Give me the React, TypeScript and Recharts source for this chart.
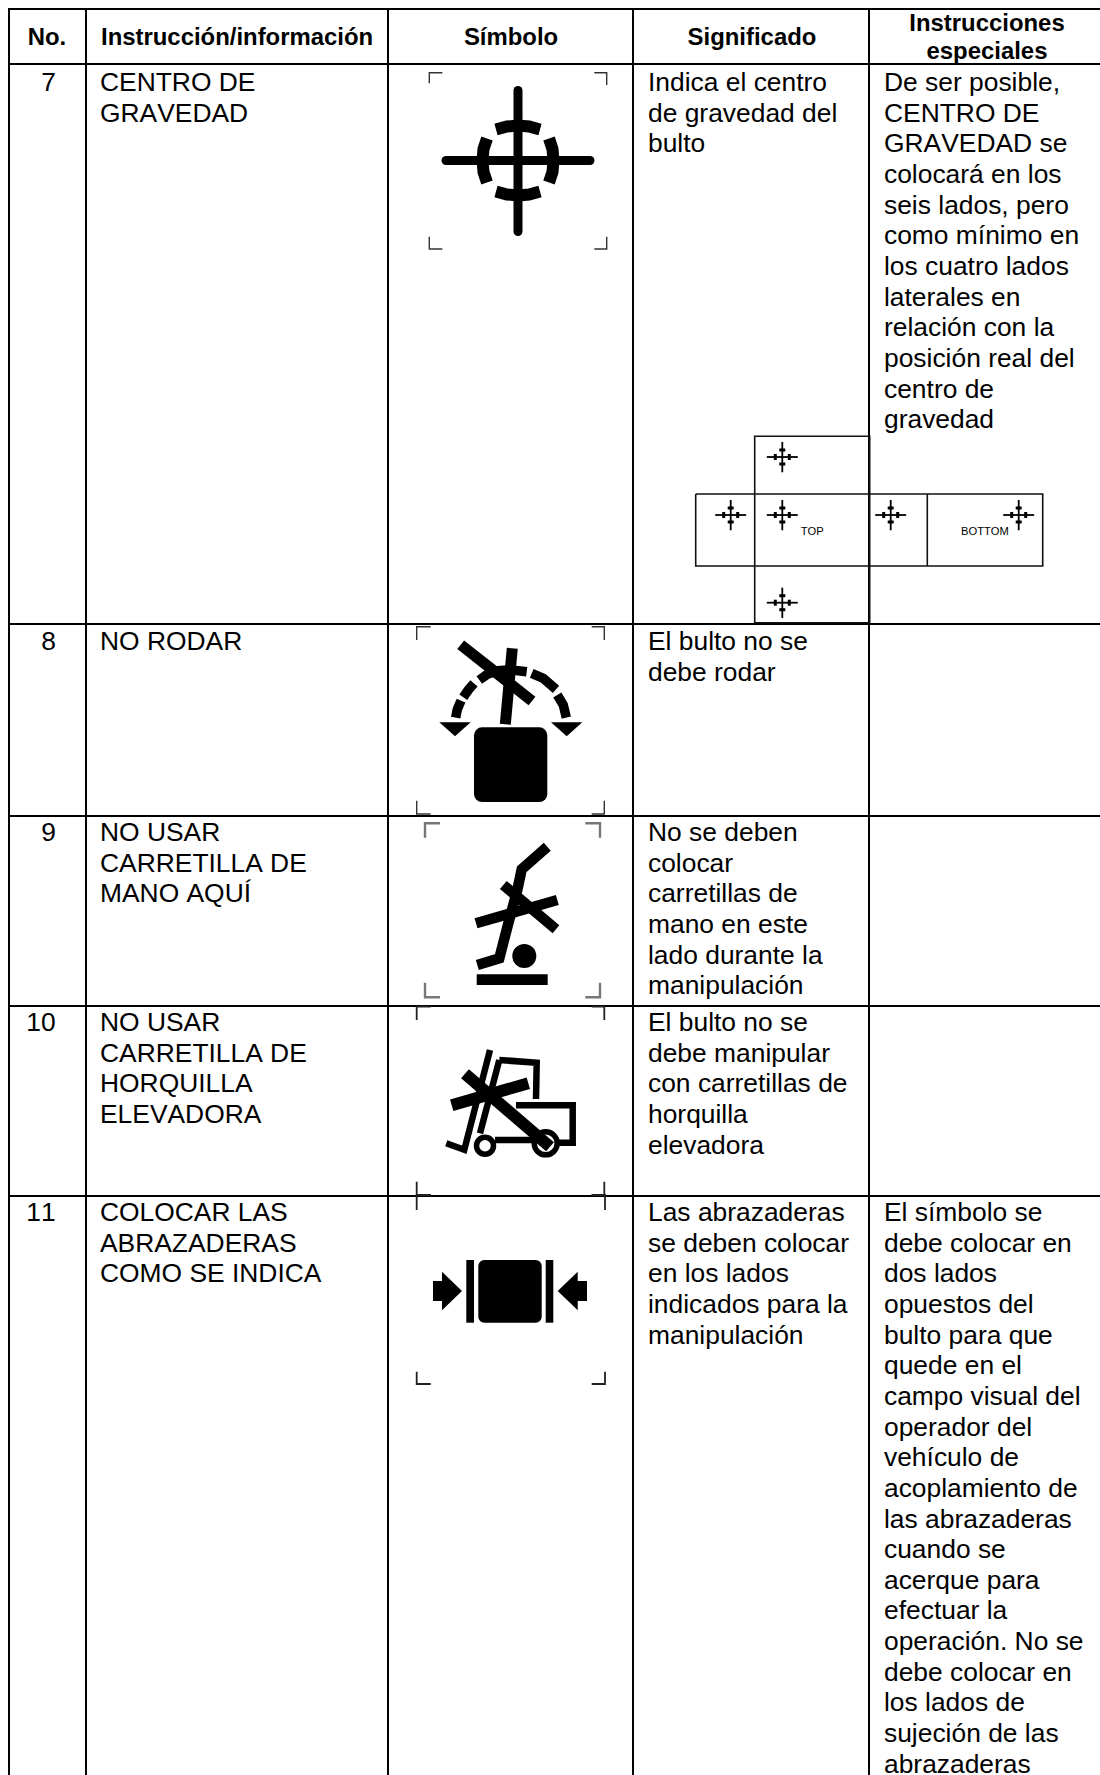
import { ScatterChart, Scatter, XAxis, YAxis, ReferenceLine, ReferenceArea } from 'recharts';

type Pair = [number, number];

const WIDTH = 1100;
const HEIGHT = 1775;
const FONT = '"Liberation Sans", Arial, sans-serif';
const LINE_GAP = 30.65;

// table grid
const columnEdges = [9, 86, 388, 633, 869];
const rowEdges = [9, 64, 624, 816, 1006, 1196];

// header labels
const headerCentered = [
  { x: 47, y: 45, t: 'No.' },
  { x: 511, y: 45, t: 'Símbolo' },
  { x: 752, y: 45, t: 'Significado' },
  { x: 987, y: 31, t: 'Instrucciones' },
  { x: 987, y: 59, t: 'especiales' },
];
const headerLeft = [{ x: 101, y: 45, t: 'Instrucción/información' }];

// row numbers and first baselines
const rowNumbers = ['7', '8', '9', '10', '11'];
const rowNumberX = [48.5, 48.5, 48.5, 41, 41];
const rowBaselines = [91, 650, 841, 1031, 1221];

const instructions = [
  ['CENTRO DE', 'GRAVEDAD'],
  ['NO RODAR'],
  ['NO USAR', 'CARRETILLA DE', 'MANO AQUÍ'],
  ['NO USAR', 'CARRETILLA DE', 'HORQUILLA', 'ELEVADORA'],
  ['COLOCAR LAS', 'ABRAZADERAS', 'COMO SE INDICA'],
];
const meanings = [
  ['Indica el centro', 'de gravedad del', 'bulto'],
  ['El bulto no se', 'debe rodar'],
  ['No se deben', 'colocar', 'carretillas de', 'mano en este', 'lado durante la', 'manipulación'],
  ['El bulto no se', 'debe manipular', 'con carretillas de', 'horquilla', 'elevadora'],
  ['Las abrazaderas', 'se deben colocar', 'en los lados', 'indicados para la', 'manipulación'],
];
const specials: string[][] = [
  ['De ser posible,', 'CENTRO DE', 'GRAVEDAD se', 'colocará en los', 'seis lados, pero', 'como mínimo en', 'los cuatro lados', 'laterales en', 'relación con la', 'posición real del', 'centro de', 'gravedad'],
  [],
  [],
  [],
  ['El símbolo se', 'debe colocar en', 'dos lados', 'opuestos del', 'bulto para que', 'quede en el', 'campo visual del', 'operador del', 'vehículo de', 'acoplamiento de', 'las abrazaderas', 'cuando se', 'acerque para', 'efectuar la', 'operación. No se', 'debe colocar en', 'los lados de', 'sujeción de las', 'abrazaderas'],
];

// crop marks round each symbol
const marks7: Pair[][] = [
  [[429.3, 83.3], [429.3, 72.7], [442.3, 72.7]],
  [[594.3, 72.7], [606.7, 72.7], [606.7, 85]],
  [[429.3, 236.7], [429.3, 249], [442.3, 249]],
  [[594.3, 249], [606.7, 249], [606.7, 236.7]],
];
const marks8: Pair[][] = [
  [[416.7, 640], [416.7, 626.7], [430.7, 626.7]],
  [[591.7, 626.7], [604.3, 626.7], [604.3, 640]],
  [[416.7, 800.7], [416.7, 814], [430.7, 814]],
  [[591.7, 814], [604.3, 814], [604.3, 800.7]],
];
const marks9: Pair[][] = [
  [[425, 837.7], [425, 823.3], [440, 823.3]],
  [[585.3, 823.3], [600, 823.3], [600, 837.7]],
  [[425, 982.7], [425, 997.3], [440, 997.3]],
  [[585.3, 997.3], [600, 997.3], [600, 982.7]],
];
const marks10: Pair[][] = [
  [[416.7, 1020], [416.7, 1006.7], [430.7, 1006.7]],
  [[591.7, 1006.7], [604.3, 1006.7], [604.3, 1020]],
  [[416.7, 1181.7], [416.7, 1195], [430.7, 1195]],
  [[591.7, 1195], [604.3, 1195], [604.3, 1181.7]],
];
const marks11: Pair[][] = [
  [[416.7, 1210], [416.7, 1195], [430.7, 1195]],
  [[591.7, 1195], [605, 1195], [605, 1210]],
  [[416.7, 1371.7], [416.7, 1384], [430.7, 1384]],
  [[591.7, 1384], [605, 1384], [605, 1371.7]],
];

// centre of gravity symbol
const gravityCentre: Pair = [518, 160.5];
const gravityCross: Pair[][] = [
  [[518, 90.5], [518, 231.5]],
  [[446, 160.5], [590, 160.5]],
];
const gravityArcs: Pair[][] = [
  [[496, 129.5], [507, 126.5], [518, 125.5], [529, 126.5], [540, 129.5]],
  [[496, 191.5], [507, 194.5], [518, 195.5], [529, 194.5], [540, 191.5]],
  [[487, 138.5], [483.5, 149], [482.5, 160.5], [483.5, 172], [487, 182.5]],
  [[549, 138.5], [552.5, 149], [553.5, 160.5], [552.5, 172], [549, 182.5]],
];

// unfolded box
const boxOutline: Pair[][] = [
  [[754.7, 566], [754.7, 436.3], [869.7, 436.3], [869.7, 566]],
  [[695.7, 494], [1042.7, 494], [1042.7, 566], [695.7, 566], [695.7, 494]],
  [[754.7, 566], [754.7, 622.7], [869.7, 622.7], [869.7, 566]],
  [[927.3, 494], [927.3, 566]],
];
const boxGravityMarks: Pair[] = [[782.3, 457], [730.7, 515], [782.3, 515], [890.7, 515], [1018.7, 515], [782.3, 602.7]];
const boxLabels = [
  { x: 800.7, y: 535, t: 'TOP' },
  { x: 961, y: 535, t: 'BOTTOM' },
];
// short ticks on the small gravity marks, as offsets from its centre
const smallTicks: Pair[][] = [
  [[-3, -7], [3, -7]],
  [[-3, 7], [3, 7]],
  [[-7, -3], [-7, 3]],
  [[7, -3], [7, 3]],
];

// do not roll
const rollBars: Pair[][] = [
  [[460.7, 644.7], [532, 701]],
  [[512.3, 648.3], [505.3, 724.3]],
];
const rollArc: Pair[][] = [
  [[455.7, 717.7], [457.3, 709.3], [461, 700.7]],
  [[463.3, 697.3], [468.3, 690], [474, 683.3]],
  [[479.3, 680], [487.3, 674.3], [498.3, 670.7], [510, 669.7], [526.7, 671.7]],
  [[531.7, 673.3], [543.3, 678.3], [556, 689.3]],
  [[557.3, 695], [563.3, 705], [566.3, 717.7]],
];
const rollArrows: Pair[][] = [
  [[439.3, 722.3], [470.7, 722.3], [455, 736.3]],
  [[551, 722.3], [582.3, 722.3], [566.7, 736.3]],
];

// no hand truck
const truckFrame: Pair[] = [[547.3, 846.7], [521.7, 869.3], [517.3, 890], [508.3, 923.3], [499.3, 958.3], [477.3, 965]];
const truckBars: Pair[][] = [
  [[476, 923.3], [557.3, 900]],
  [[503.3, 885], [556, 929.3]],
];
const truckWheel: Pair = [524.3, 956];

// no forklift
const forkliftLines: Pair[][] = [
  [[446.3, 1143.3], [464.3, 1149.7], [490, 1050]],
  [[499.3, 1060], [480, 1133.3]],
  [[499.3, 1060], [536.7, 1062.7], [536, 1099]],
  [[516, 1105.3], [572.7, 1105.3], [572.7, 1142.7], [556.7, 1142.7]],
  [[495, 1140], [535, 1140]],
];
const forkliftSmallWheel: Pair = [485, 1145.7];
const forkliftBigWheel: Pair = [545.7, 1143.3];
const forkliftBars: Pair[][] = [
  [[451.7, 1105.3], [528.3, 1083.3]],
  [[465, 1073.7], [550, 1146.7]],
];

// clamps
const clampArrows: Pair[][] = [
  [[433, 1281], [442, 1281], [442, 1271.7], [462, 1291], [442, 1310.3], [442, 1301], [433, 1301]],
  [[587, 1281], [577.7, 1281], [577.7, 1271.7], [557.7, 1291], [577.7, 1310.3], [577.7, 1301], [587, 1301]],
];

const toPoints = (pairs: Pair[]) => pairs.map(([x, y]) => ({ x, y }));

const linePoints = (lines: string[], x: number, first: number) =>
  lines.map((t, i) => ({ x, y: first + i * LINE_GAP, t }));

// the small gravity mark is the large cross moved and shrunk
const shrink = (pairs: Pair[], at: Pair): Pair[] =>
  pairs.map(([x, y]) => [at[0] + (x - gravityCentre[0]) * 0.215, at[1] + (y - gravityCentre[1]) * 0.215]);

const moved = (pairs: Pair[], at: Pair): Pair[] => pairs.map(([x, y]) => [at[0] + x, at[1] + y]);

const hidden = () => null;

function stroke(key: string, pairs: Pair[], width: number, color = '#000', extra = {}) {
  return (
    <Scatter
      key={key}
      data={toPoints(pairs)}
      isAnimationActive={false}
      shape={hidden}
      line={{ stroke: color, strokeWidth: width, fill: 'none', strokeLinejoin: 'miter', ...extra }}
      lineType="joint"
    />
  );
}

function polygon(key: string, pairs: Pair[]) {
  return (
    <Scatter
      key={key}
      data={toPoints(pairs)}
      isAnimationActive={false}
      shape={hidden}
      line={{ stroke: 'none', fill: '#000' }}
      lineType="joint"
    />
  );
}

function circle(key: string, at: Pair, r: number, fill: string, width: number) {
  return (
    <Scatter
      key={key}
      data={toPoints([at])}
      isAnimationActive={false}
      shape={(p: any) => <circle cx={p.cx} cy={p.cy} r={r} fill={fill} stroke="#000" strokeWidth={width} />}
    />
  );
}

function labels(key: string, data: { x: number; y: number; t: string }[], size: number, weight = 400, anchor = 'start') {
  return (
    <Scatter
      key={key}
      data={data}
      isAnimationActive={false}
      shape={(p: any) => (
        <text
          x={p.cx}
          y={p.cy}
          fontFamily={FONT}
          fontSize={size}
          fontWeight={weight}
          textAnchor={anchor}
          fill="#000"
          style={{ fontKerning: 'none' }}
        >
          {p.payload.t}
        </text>
      )}
    />
  );
}

function block(x1: number, x2: number, y1: number, y2: number, radius = 0) {
  return (
    <ReferenceArea
      key={`${x1}-${y1}`}
      x1={x1}
      x2={x2}
      y1={y1}
      y2={y2}
      fill="#000"
      fillOpacity={1}
      stroke="none"
      radius={radius}
      ifOverflow="visible"
    />
  );
}

const smallMark = (at: Pair, i: number) => [
  ...gravityCross.map((c, j) => stroke(`sc${i}${j}`, shrink(c, at), 1.8)),
  ...smallTicks.map((c, j) => stroke(`st${i}${j}`, moved(c, at), 3)),
];

export default function App() {
  return (
    <div style={{ position: 'absolute', left: 0, top: 0, width: WIDTH, height: HEIGHT, background: '#fff' }}>
      <ScatterChart width={WIDTH} height={HEIGHT} margin={{ top: 0, right: 0, bottom: 0, left: 0 }}>
        <XAxis type="number" dataKey="x" domain={[0, WIDTH]} hide allowDataOverflow />
        <YAxis type="number" dataKey="y" domain={[0, HEIGHT]} reversed hide allowDataOverflow />

        {columnEdges.map((x) => (
          <ReferenceLine key={`c${x}`} segment={[{ x, y: 8 }, { x, y: HEIGHT }]} stroke="#000" strokeWidth={2} ifOverflow="visible" />
        ))}
        {rowEdges.map((y) => (
          <ReferenceLine key={`r${y}`} segment={[{ x: 8, y }, { x: WIDTH, y }]} stroke="#000" strokeWidth={2} ifOverflow="visible" />
        ))}

        {labels('hc', headerCentered, 23.9, 700, 'middle')}
        {labels('hl', headerLeft, 23.9, 700)}
        {labels('no', rowNumbers.map((t, i) => ({ x: rowNumberX[i], y: rowBaselines[i], t })), 26.4, 400, 'middle')}
        {instructions.map((lines, i) => labels(`in${i}`, linePoints(lines, 100, rowBaselines[i]), 26.4))}
        {meanings.map((lines, i) => labels(`me${i}`, linePoints(lines, 648, rowBaselines[i]), 26.4))}
        {specials.map((lines, i) => labels(`sp${i}`, linePoints(lines, 884, rowBaselines[i]), 26.4))}

        {marks7.map((m, i) => stroke(`m7${i}`, m, 1.4, '#333'))}
        {gravityCross.map((c, i) => stroke(`gc${i}`, c, 9, '#000', { strokeLinecap: 'round' }))}
        {gravityArcs.map((c, i) => stroke(`ga${i}`, c, 12))}

        {boxOutline.map((b, i) => stroke(`bo${i}`, b, 1.6, '#111'))}
        {boxGravityMarks.map(smallMark)}
        {labels('bl', boxLabels, 11.2)}

        {marks8.map((m, i) => stroke(`m8${i}`, m, 1.4, '#333'))}
        {rollArc.map((a, i) => stroke(`ra${i}`, a, 9.5))}
        {rollBars.map((b, i) => stroke(`rb${i}`, b, 11))}
        {rollArrows.map((a, i) => polygon(`rw${i}`, a))}
        {block(474, 547.3, 727.3, 802, 8)}

        {marks9.map((m, i) => stroke(`m9${i}`, m, 2.4, '#777'))}
        {stroke('tf', truckFrame, 10.5)}
        {truckBars.map((b, i) => stroke(`tb${i}`, b, 10.5))}
        {circle('tw', truckWheel, 12, '#000', 0)}
        {block(476.7, 547.7, 974.3, 985)}

        {marks10.map((m, i) => stroke(`m10${i}`, m, 1.8, '#222'))}
        {forkliftLines.map((l, i) => stroke(`fl${i}`, l, 6.5))}
        {circle('fs', forkliftSmallWheel, 8.5, '#fff', 5.5)}
        {circle('fb', forkliftBigWheel, 11.5, '#fff', 5.5)}
        {forkliftBars.map((b, i) => stroke(`fb${i}`, b, 12))}

        {marks11.map((m, i) => stroke(`m11${i}`, m, 1.8, '#222'))}
        {clampArrows.map((a, i) => polygon(`ca${i}`, a))}
        {block(466.3, 474, 1260, 1322.7)}
        {block(478.3, 541.7, 1260, 1322.7, 6)}
        {block(545.7, 553.3, 1260, 1322.7)}
      </ScatterChart>
    </div>
  );
}
